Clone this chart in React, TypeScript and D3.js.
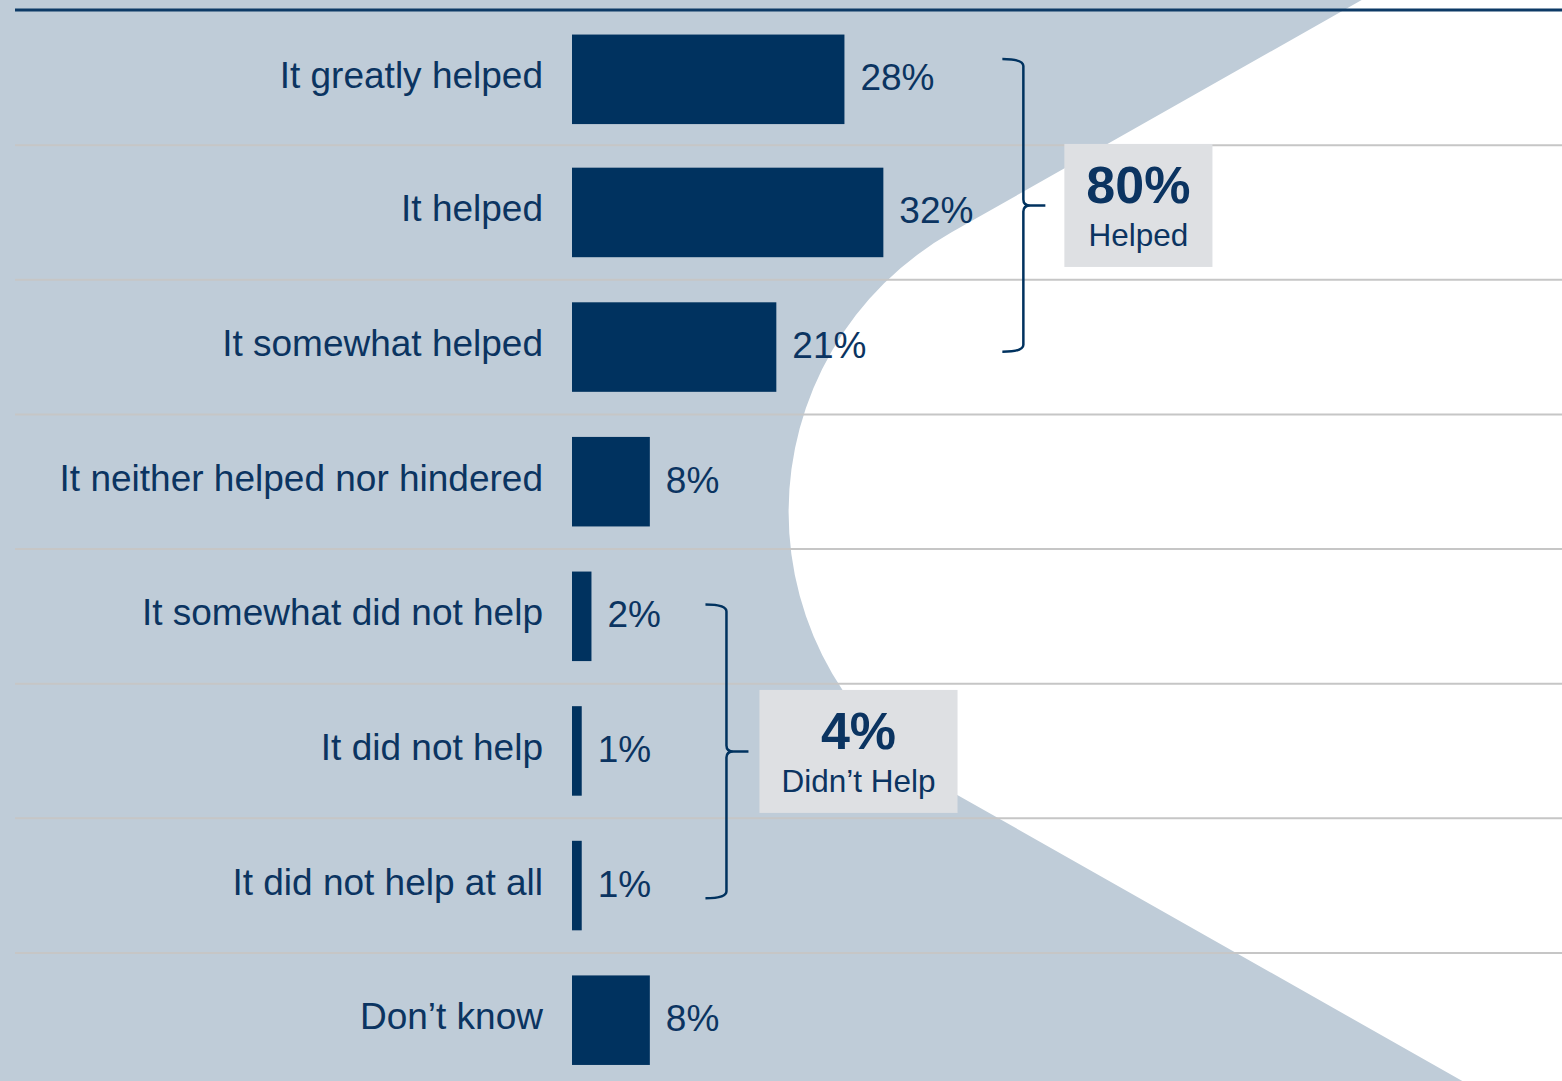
import React from "react";
import * as d3 from "d3";

const categories = [
  "It greatly helped",
  "It helped",
  "It somewhat helped",
  "It neither helped nor hindered",
  "It somewhat did not help",
  "It did not help",
  "It did not help at all",
  "Don\u2019t know",
];
const values = [28, 32, 21, 8, 2, 1, 1, 8];
const groupLabels = ["Helped", "Didn\u2019t Help"];
const groupTotals = [80, 4];
const groupFrom = [0, 4];
const groupTo = [2, 6];

const W = 1562;
const H = 1081;
const FONT = "'Liberation Sans', Arial, Helvetica, sans-serif";
const NAVY = "#00325F";
const TEXT = "#0B3461";
const BG = "#BFCCD8";
const GRID = "#C6C6C6";
const BOX = "#DEE0E3";

let measureCtx: CanvasRenderingContext2D | null = null;
function measure(text: string, font: string) {
  if (!measureCtx) {
    const c = document.createElement("canvas");
    measureCtx = c.getContext("2d");
  }
  if (!measureCtx) return text.length * 15;
  measureCtx.font = font;
  return measureCtx.measureText(text).width;
}

function backgroundPath() {
  // chevron with rounded tip
  const apexX = 458;
  const apexY = 512;
  const k = 1.765;
  const cx = 1110;
  const cy = apexY;
  const norm = Math.sqrt(1 + k * k);
  const d = cx - apexX;
  const r = d / norm;
  const t = Math.sqrt(d * d - r * r);
  const ux = k / norm;
  const uy = 1 / norm;
  const t1 = [apexX + t * ux, apexY - t * uy];
  const t2 = [apexX + t * ux, apexY + t * uy];
  const a1 = Math.atan2(t1[1] - cy, t1[0] - cx);
  const a2 = Math.atan2(t2[1] - cy, t2[0] - cx);
  const p = d3.path();
  p.moveTo(0, 0);
  p.lineTo(apexX + k * apexY, 0);
  p.lineTo(t1[0], t1[1]);
  p.arc(cx, cy, r, a1, a2, true);
  p.lineTo(apexX + k * (H - apexY), H);
  p.lineTo(0, H);
  p.closePath();
  return p.toString();
}

function bracePath(bx: number, y0: number, y1: number) {
  const ym = (y0 + y1) / 2;
  const p = d3.path();
  p.moveTo(bx - 21, y0);
  p.quadraticCurveTo(bx, y0, bx, y0 + 7);
  p.lineTo(bx, ym - 6);
  p.quadraticCurveTo(bx, ym, bx + 7, ym);
  p.lineTo(bx + 22, ym);
  p.moveTo(bx + 7, ym);
  p.quadraticCurveTo(bx, ym, bx, ym + 6);
  p.lineTo(bx, y1 - 7);
  p.quadraticCurveTo(bx, y1, bx - 21, y1);
  return p.toString();
}

export default function App() {
  const y = d3
    .scaleBand<number>()
    .domain(d3.range(categories.length))
    .range([10.5, 1087.5])
    .paddingInner(0.335)
    .paddingOuter(0.1675);
  const x = d3.scaleLinear().domain([0, 100]).range([572, 572 + 973]);
  const step = y.step();
  const bandTop = (i: number) => 10.5 + i * step;

  const gridYs = d3.range(1, categories.length).map((i) => bandTop(i));

  // layout tweaks per annotation group
  const braceOffsetX = [140, 135];
  const braceInsetTop = [26, 33];
  const braceInsetBottom = [40, 32];
  const boxGap = [41, 33];

  return (
    <svg
      width={W}
      height={H}
      viewBox={`0 0 ${W} ${H}`}
      style={{ position: "absolute", left: 0, top: 0, display: "block" }}
      fontFamily={FONT}
    >
      <rect x={0} y={0} width={W} height={H} fill="#FFFFFF" />
      <path d={backgroundPath()} fill={BG} />
      {gridYs.map((gy, i) => (
        <line key={i} x1={15} x2={W} y1={gy} y2={gy} stroke={GRID} strokeWidth={2} />
      ))}
      <line x1={15} x2={W} y1={10} y2={10} stroke="#0D3A66" strokeWidth={3} />
      {values.map((v, i) => {
        const by = (y(i) as number) + (i === 0 ? 1.5 : 0);
        const bh = y.bandwidth();
        const cy = by + bh / 2;
        return (
          <g key={i}>
            <rect x={x(0)} y={by} width={x(v) - x(0)} height={bh} fill={NAVY} />
            <text
              x={543}
              y={cy + 9}
              textAnchor="end"
              fontSize={37}
              fill={TEXT}
            >
              {categories[i]}
            </text>
            <text x={x(v) + 16} y={cy + 11} fontSize={37} fill={TEXT}>
              {`${v}%`}
            </text>
          </g>
        );
      })}
      {groupLabels.map((lab, g) => {
        const members = d3.range(groupFrom[g], groupTo[g] + 1);
        const maxV = d3.max(members, (i) => values[i]) as number;
        const bx = x(maxV) + braceOffsetX[g];
        const y0 = (y(groupFrom[g]) as number) + braceInsetTop[g];
        const y1 = (y(groupTo[g]) as number) + y.bandwidth() - braceInsetBottom[g];
        const ym = (y0 + y1) / 2;
        const totalText = `${groupTotals[g]}%`;
        const wLab = measure(lab, `31.5px ${FONT}`);
        const wTot = measure(totalText, `bold 52px ${FONT}`);
        const bw = Math.max(wLab + 44, wTot + 44);
        const bhBox = 123;
        const boxX = bx + boxGap[g];
        const boxY = ym - bhBox / 2;
        return (
          <g key={g}>
            <path
              d={bracePath(bx, y0, y1)}
              fill="none"
              stroke={NAVY}
              strokeWidth={2.5}
            />
            <rect x={boxX} y={boxY} width={bw} height={bhBox} fill={BOX} />
            <text
              x={boxX + bw / 2}
              y={boxY + 59}
              textAnchor="middle"
              fontSize={52}
              fontWeight="bold"
              fill={TEXT}
            >
              {totalText}
            </text>
            <text
              x={boxX + bw / 2}
              y={boxY + 102}
              textAnchor="middle"
              fontSize={31.5}
              fill={TEXT}
            >
              {lab}
            </text>
          </g>
        );
      })}
    </svg>
  );
}
